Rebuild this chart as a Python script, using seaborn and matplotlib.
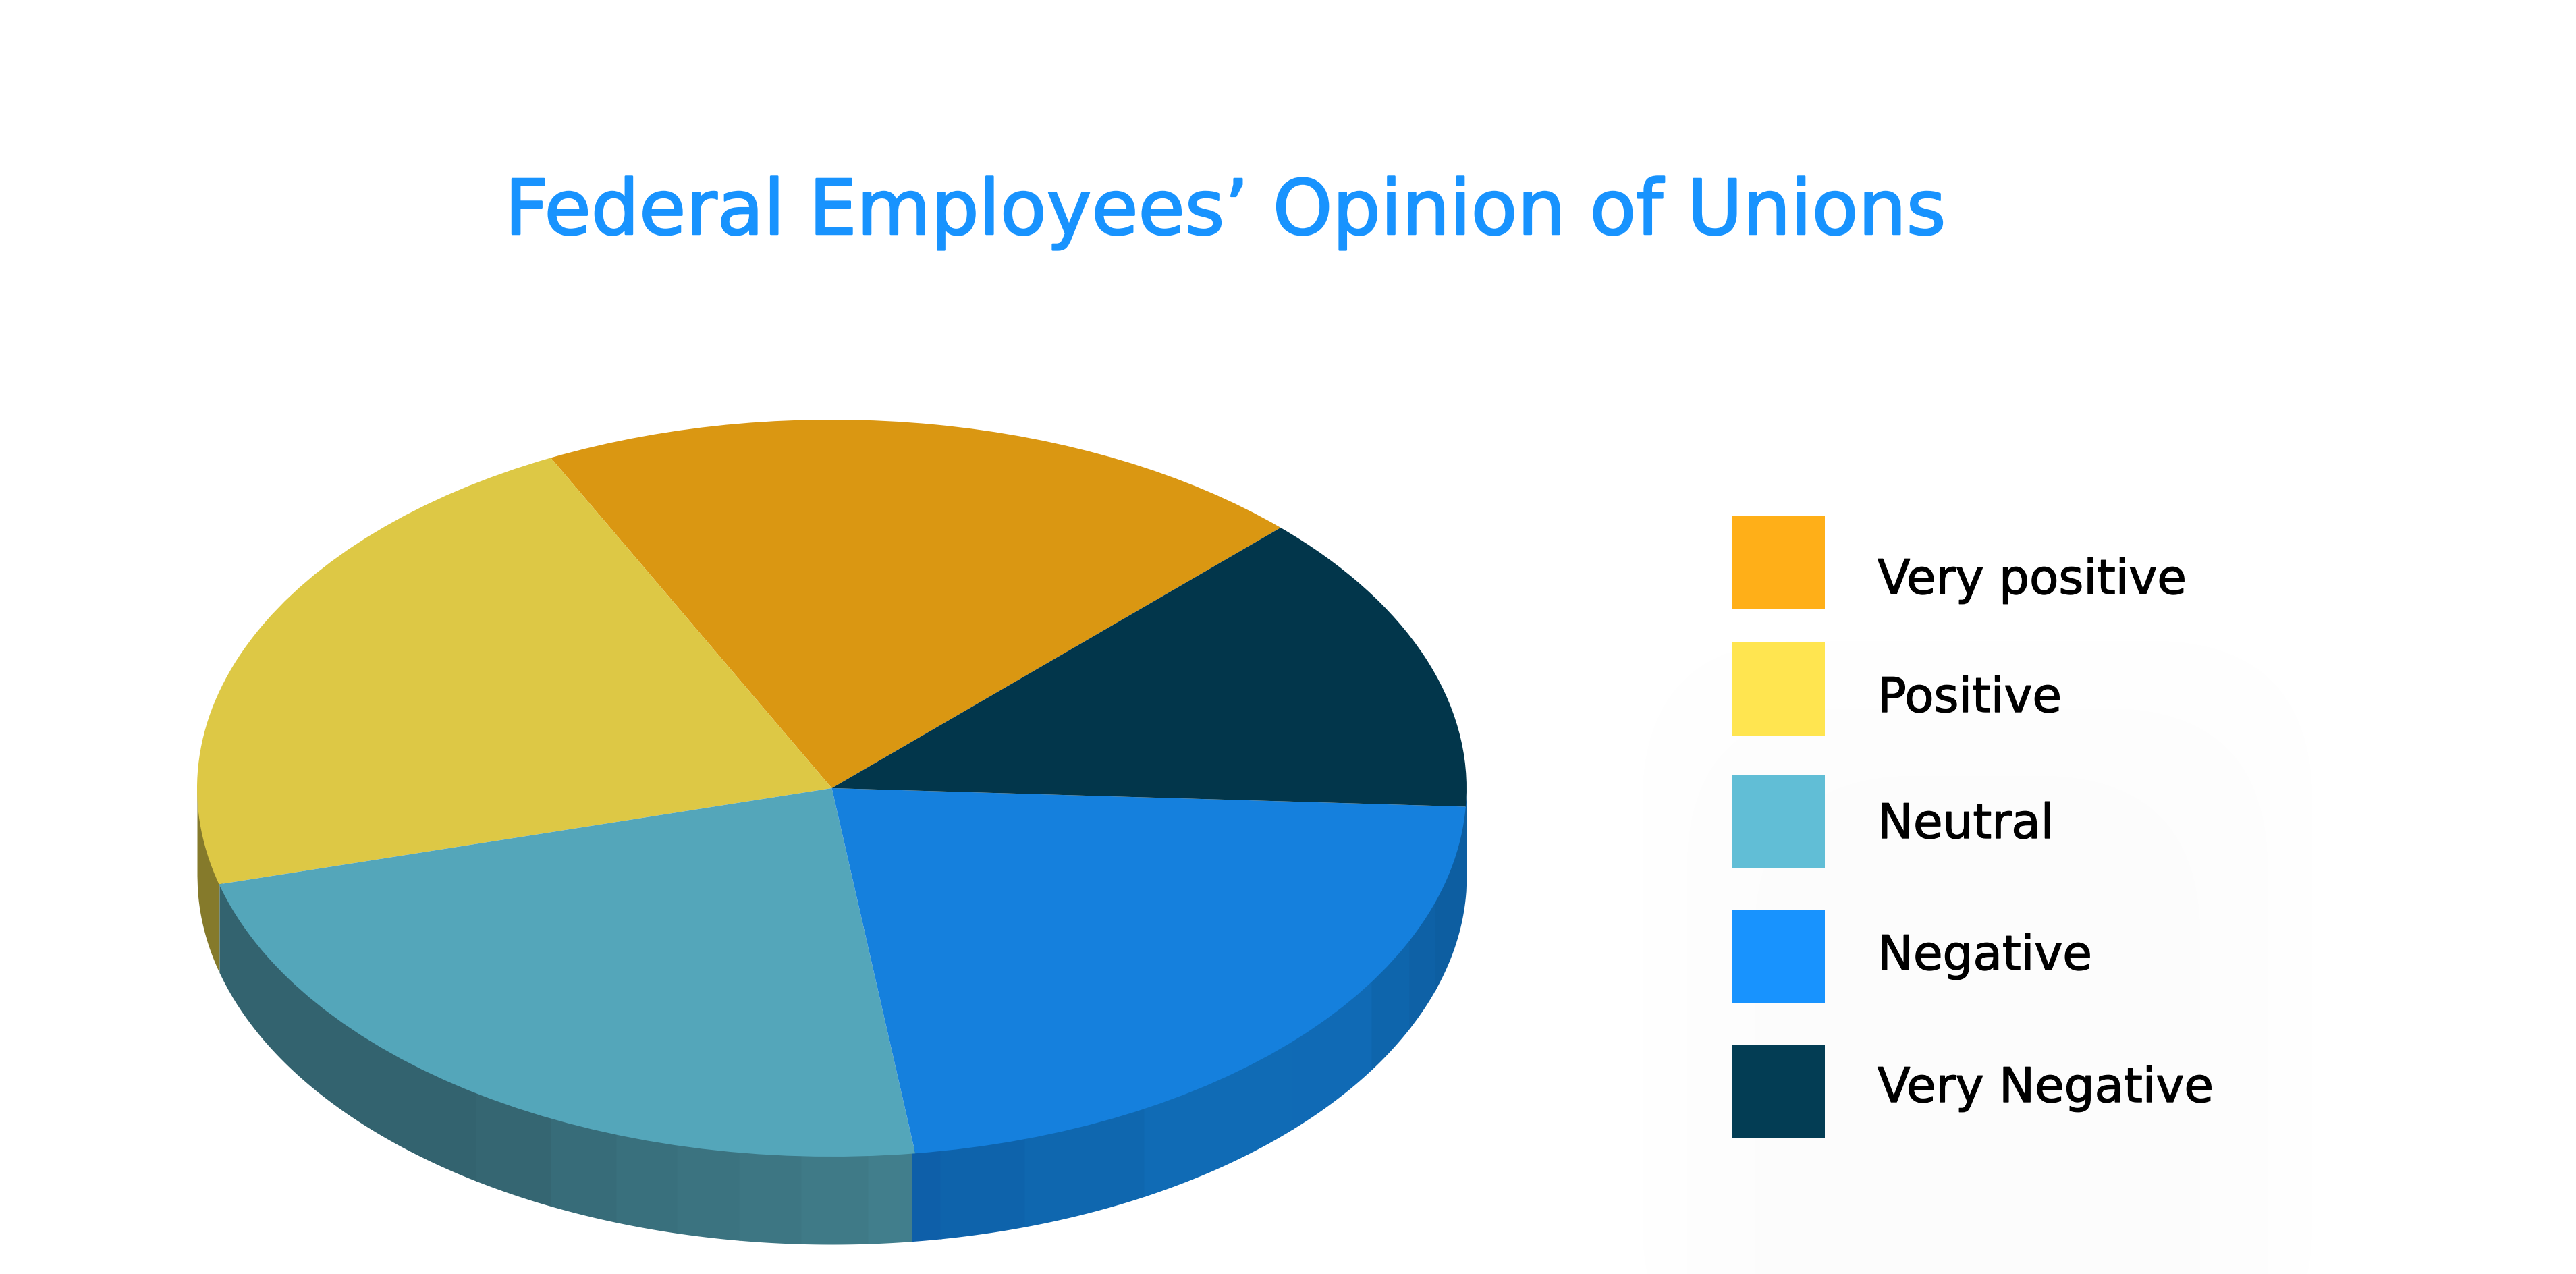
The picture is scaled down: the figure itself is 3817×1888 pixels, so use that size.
import numpy as np
import seaborn as sns
import matplotlib.pyplot as plt
import matplotlib.patheffects as pe
from matplotlib.patches import FancyBboxPatch, Rectangle

W, H = 3817, 1888

# valores (% de cada fatia)
categories = ['Very positive', 'Positive', 'Neutral', 'Negative', 'Very Negative']
shares = [19.8, 21.9, 22.9, 22.1, 13.3]
title = 'Federal Employees\u2019 Opinion of Unions'

legend_colors = ['#FFAF18', '#FFE550', '#61BED6', '#1893FE', '#033D54']
top_colors = ['#DA9712', '#DDC845', '#54A6BA', '#1580DD', '#02364B']

# geometria da pizza em pixels
cx, cy, rx, ry, depth = 1232.5, 1168, 940.5, 546, 130

# faixas verticais da lateral: bordas em x (pixels) e cor de cada faixa
side_edges_olive = [292, 325]
side_colors_olive = ['#857A2B']
side_edges_neutral = [325, 705, 816, 913, 1003, 1095, 1187, 1286, 1351]
side_colors_neutral = ['#33636F', '#356672', '#376C79', '#39707D', '#3B7380', '#3D7683', '#3F7A87', '#417E8C']
side_edges_negative = [1351, 1393, 1518, 1695, 1914, 2032, 2088, 2126, 2173]
side_colors_negative = ['#0E5FA9', '#0E63AB', '#0F67AF', '#106BB5', '#106AB5', '#0E65AC', '#0E61A6', '#0D5EA1']

sns.set_theme(style='white')
plt.rcParams['font.family'] = ['DejaVu Sans']
palette = sns.color_palette(legend_colors)

fig = plt.figure(figsize=(W / 100, H / 100), dpi=100)

# camada de fundo: sombra bem clara atras da legenda
bg = fig.add_axes([0, 0, 1, 1])
bg.set_xlim(0, W)
bg.set_ylim(H, 0)
bg.axis('off')
for (x0, y0, x1, c) in [(2434, 950, 3426, '#FEFEFE'), (2500, 1050, 3360, '#FDFDFD'), (2600, 1150, 3260, '#FCFCFC')]:
    bg.add_patch(FancyBboxPatch((x0, y0), x1 - x0, 1100, boxstyle='round,pad=0,rounding_size=240',
                                fc=c, ec='none'))

# pizza: raio 1 em x e em y, o achatamento vem dos limites do eixo
ax = fig.add_axes([0, 0, 1, 1])
ax.patch.set_alpha(0)


def draw_side(edges, colors):
    for i, c in enumerate(colors):
        # passa um pouco da borda direita para nao sobrar emenda entre as faixas
        right = edges[i + 1] + (2 if i < len(colors) - 1 else 0)
        xs = (np.linspace(edges[i], right, 60) - cx) / rx
        rim = -np.sqrt(np.clip(1 - xs ** 2, 0, 1))
        ax.fill_between(xs, rim - depth / ry, rim + 0.02, color=c, lw=0, zorder=1)


draw_side(side_edges_olive, side_colors_olive)
draw_side(side_edges_neutral, side_colors_neutral)
draw_side(side_edges_negative, side_colors_negative)

wedges, _ = ax.pie(shares, colors=top_colors, startangle=45, counterclock=True, radius=1,
                   wedgeprops={'linewidth': 0, 'zorder': 3})

ax.set_aspect('auto')
ax.set_xlim(-cx / rx, (W - cx) / rx)
ax.set_ylim((cy - H) / ry, cy / ry)
ax.axis('off')

# camada da legenda e do titulo, em pixels
top = fig.add_axes([0, 0, 1, 1])
top.patch.set_alpha(0)
top.set_xlim(0, W)
top.set_ylim(H, 0)
top.axis('off')

# traco fino em volta das letras para chegar no peso medio do original
t = top.text(748, 347, title, fontsize=81, color='#1893FE', ha='left', va='baseline')
t.set_path_effects([pe.withStroke(linewidth=1.8, foreground='#1893FE')])

swatch_top = [765, 952, 1148, 1348, 1548]
text_base = [880, 1055, 1242, 1437, 1633]
for name, col, y0, yb in zip(categories, palette, swatch_top, text_base):
    top.add_patch(Rectangle((2566, y0), 138, 138, fc=col, ec='none'))
    t = top.text(2782, yb, name, fontsize=51, color='black', ha='left', va='baseline')
    t.set_path_effects([pe.withStroke(linewidth=1.0, foreground='black')])

fig.savefig('out.png', dpi=100)
